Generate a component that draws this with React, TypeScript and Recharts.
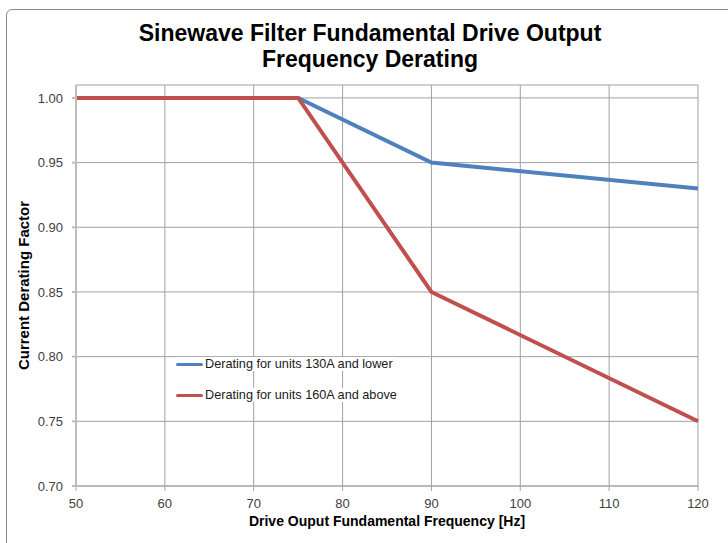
import React from "react";
import { LineChart, Line, XAxis, YAxis, CartesianGrid } from "recharts";

const frequency = [50, 75, 90, 120];
const lowerUnits = [1.0, 1.0, 0.95, 0.93];
const upperUnits = [1.0, 1.0, 0.85, 0.75];
const xTicks = [50, 60, 70, 80, 90, 100, 110, 120];
const yTicks = [0.7, 0.75, 0.8, 0.85, 0.9, 0.95, 1.0];

const seriesNames = ["Derating for units 130A and lower", "Derating for units 160A and above"];
const colors = ["#4F81BD", "#C0504D"];

const data = frequency.map((f, i) => ({ f, lower: lowerUnits[i], upper: upperUnits[i] }));

const font = "'Liberation Sans', Arial, sans-serif";

export default function App() {
  return (
    <div style={{ position: "absolute", left: 0, top: 0, width: 728, height: 543, overflow: "hidden", background: "#fff", fontFamily: font }}>
      <div style={{ position: "absolute", left: 6, top: 9, width: 760, height: 580, border: "1px solid #8a8a8a", borderRadius: 6 }} />
      <div style={{ position: "absolute", left: 0, top: 20, width: 740, textAlign: "center", fontWeight: "bold", fontSize: 23, lineHeight: "26px", color: "#000" }}>
        Sinewave Filter Fundamental Drive Output
        <br />
        Frequency Derating
      </div>
      <LineChart width={728} height={543} data={data} margin={{ top: 85, right: 30, left: 16, bottom: 15 }} style={{ position: "absolute", left: 0, top: 0 }}>
        <CartesianGrid stroke="#a0a0a0" />
        <XAxis
          dataKey="f"
          type="number"
          domain={[50, 120]}
          ticks={xTicks}
          height={42}
          tickSize={5}
          tickMargin={8}
          stroke="#a6a6a6"
          tick={{ fill: "#404040", fontSize: 13, fontFamily: font }}
          label={{ value: "Drive Ouput Fundamental Frequency [Hz]", position: "insideBottom", offset: 2, style: { fontWeight: "bold", fontSize: 14, fill: "#000", fontFamily: font } }}
        />
        <YAxis
          type="number"
          domain={[0.7, 1.01]}
          ticks={yTicks}
          width={60}
          tickSize={4}
          tickMargin={9}
          stroke="#bdbdbd"
          strokeWidth={2}
          tickFormatter={(v: number) => v.toFixed(2)}
          tick={{ fill: "#404040", fontSize: 13, fontFamily: font }}
          label={{ value: "Current Derating Factor", angle: -90, position: "insideLeft", offset: 8, style: { textAnchor: "middle", fontWeight: "bold", fontSize: 15, fill: "#000", fontFamily: font } }}
        />
        <Line dataKey="lower" stroke={colors[0]} strokeWidth={4} dot={false} isAnimationActive={false} />
        <Line dataKey="upper" stroke={colors[1]} strokeWidth={4} dot={false} isAnimationActive={false} />
      </LineChart>
      {seriesNames.map((name, i) => (
        <div key={name} style={{ position: "absolute", left: 176, top: 357 + i * 31, display: "flex", alignItems: "center", fontSize: 12.7, color: "#1a1a1a", background: "#fff", paddingRight: 4 }}>
          <span style={{ display: "inline-block", width: 27, height: 3, background: colors[i], borderRadius: 2, marginRight: 2 }} />
          {name}
        </div>
      ))}
    </div>
  );
}
